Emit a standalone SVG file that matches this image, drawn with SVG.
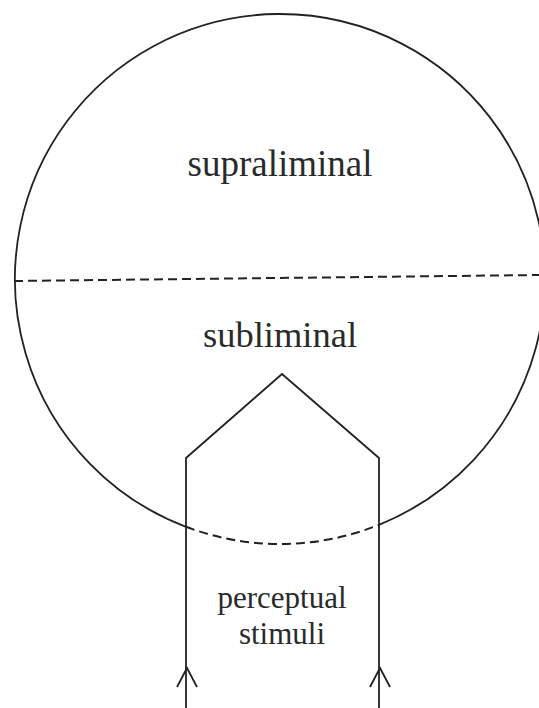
<svg xmlns="http://www.w3.org/2000/svg" width="539" height="708" viewBox="0 0 539 708">
<style>
.ln{fill:none;stroke:#222;stroke-width:1.8;stroke-linejoin:miter}
.dash{fill:none;stroke:#222;stroke-width:2;stroke-dasharray:9 5}
.t{font-family:"Liberation Serif","Times New Roman",serif;fill:#2a2a2a;text-anchor:middle}
</style>
<rect width="539" height="708" fill="#fff"/>
<g id="sphere">
<path class="ln" d="M186 526.8 A265 265 0 1 1 379 524.8"/>
<path class="dash" d="M186 526.8 A265 265 0 0 0 379 524.8" stroke-dasharray="8 6"/>
<line class="dash" x1="14" y1="281" x2="539" y2="275"/>
</g>
<g id="supraliminal"><text class="t" x="280" y="176" font-size="37">supraliminal</text></g>
<g id="subliminal"><text class="t" x="280" y="347" font-size="36.5">subliminal</text></g>
<g id="stimuli">
<text class="t" x="282" y="608" font-size="31">perceptual</text>
<text class="t" x="282" y="644" font-size="31">stimuli</text>
</g>
<g id="connectors">
<polyline class="ln" points="186,708 186,458 282,374 379,458 379,708"/>
<polyline class="ln" points="177,687 187,668 197,687"/>
<polyline class="ln" points="370,687 380,668 390,687"/>
</g>
</svg>
